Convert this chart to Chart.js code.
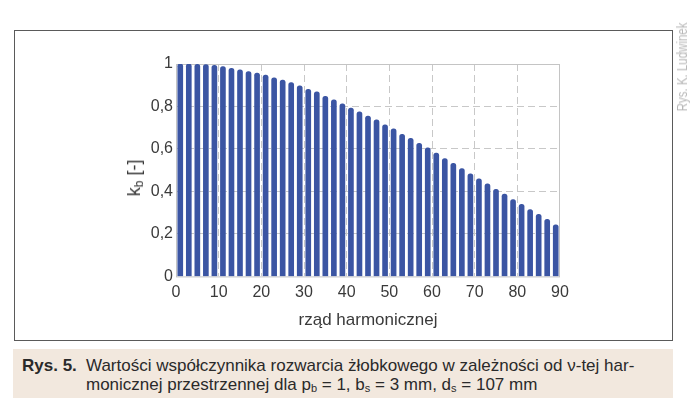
<!DOCTYPE html>
<html>
<head>
<meta charset="utf-8">
<script src="https://cdn.jsdelivr.net/npm/chart.js@4"></script>
<style>
  body { margin: 0; background: #fff; width: 700px; height: 415px; position: relative; overflow: hidden; }
  #frame { position: absolute; left: 14px; top: 30px; width: 657px; height: 309px; border: 1.5px solid #5a5a5a; }
  #wrap { position: absolute; left: 0; top: 0; width: 700px; height: 415px; }
  #ytitle { position: absolute; left: 135px; top: 178px; transform: translate(-50%, -50%) rotate(-90deg);
            font: 18px "Liberation Sans", Arial, sans-serif; color: #3a3a3a; white-space: nowrap; }
  #ytitle sub { font-size: 12px; vertical-align: -3px; }
  #credit { position: absolute; left: 682px; top: 67px; transform: translate(-50%, -50%) rotate(-90deg) scaleX(0.82);
            font: 14px "Liberation Sans", sans-serif; color: #b8b8b8; white-space: nowrap; }
  #caption { position: absolute; left: 13px; top: 349px; width: 660px; height: 49px; background: #f2e8de;
             font: 17px "Liberation Sans", Arial, sans-serif; color: #2a2a2a; }
  #caption .lab { position: absolute; left: 9px; top: 7px; font-weight: bold; }
  #caption .txt { position: absolute; left: 73px; top: 7px; line-height: 19px; white-space: nowrap; }
  #caption sub { font-size: 11px; vertical-align: -2px; }
</style>
</head>
<body>
<div id="frame"></div>
<div id="wrap"><canvas id="kbChart" width="700" height="415"></canvas></div>
<div id="ytitle">k<sub>b</sub> [-]</div>
<div id="credit">Rys. K. Ludwinek</div>
<div id="caption">
  <span class="lab">Rys. 5.</span>
  <span class="txt">Wartości współczynnika rozwarcia żłobkowego w zależności od ν-tej har-<br>monicznej przestrzennej dla p<sub>b</sub> = 1, b<sub>s</sub> = 3 mm, d<sub>s</sub> = 107 mm</span>
</div>
<script>
// harmonic orders (odd) and read-off k_b values
const harmonics = [1, 3, 5, 7, 9, 11, 13, 15, 17, 19, 21, 23, 25, 27, 29, 31, 33, 35, 37, 39, 41, 43, 45,
                   47, 49, 51, 53, 55, 57, 59, 61, 63, 65, 67, 69, 71, 73, 75, 77, 79, 81, 83, 85, 87, 89];
const kbValues = [1.0, 1.0, 0.998, 0.997, 0.994, 0.988, 0.980, 0.973, 0.964, 0.957, 0.948, 0.935, 0.924,
                  0.912, 0.897, 0.881, 0.869, 0.848, 0.831, 0.813, 0.793, 0.775, 0.755,
                  0.737, 0.714, 0.695, 0.669, 0.650, 0.626, 0.605, 0.581, 0.555, 0.532, 0.508, 0.483,
                  0.459, 0.436, 0.410, 0.388, 0.362, 0.339, 0.315, 0.292, 0.269, 0.243];
const xTicks = [0, 10, 20, 30, 40, 50, 60, 70, 80, 90];
const yTicks = [0, 0.2, 0.4, 0.6, 0.8, 1];

const tickFont = { family: '"Liberation Sans", Arial, sans-serif', size: 16 };

// solid light box around the plot (top/right edges are solid in the original)
const plotBox = {
    id: 'plotBox',
    beforeDatasetsDraw(chart) {
        const a = chart.chartArea, ctx = chart.ctx;
        ctx.save();
        ctx.strokeStyle = '#c4c4c4';
        ctx.lineWidth = 1;
        ctx.strokeRect(a.left + 0.5, a.top + 0.5, a.right - a.left - 1, a.bottom - a.top);
        ctx.restore();
    }
};

const ctx = document.getElementById('kbChart').getContext('2d');
new Chart(ctx, {
    type: 'bar',
    data: {
        datasets: [{
            data: harmonics.map((h, i) => ({ x: h, y: kbValues[i] })),
            backgroundColor: '#3b55a3',
            barThickness: 5,
            borderRadius: { topLeft: 2.5, topRight: 2.5, bottomLeft: 0, bottomRight: 0 },
            borderSkipped: 'bottom'
        }]
    },
    options: {
        responsive: false,
        animation: false,
        layout: { padding: { left: 0, right: 140, top: 64, bottom: 84 } },
        plugins: { legend: { display: false }, tooltip: { enabled: false } },
        scales: {
            x: {
                type: 'linear',
                min: 0, max: 90,
                offset: false,
                afterBuildTicks: s => { s.ticks = xTicks.map(v => ({ value: v })); },
                ticks: { font: tickFont, color: '#3a3a3a', padding: 7, maxRotation: 0 },
                grid: { color: c => (c.tick && (c.tick.value === 0 || c.tick.value === 90)) ? 'rgba(0,0,0,0)' : '#c8c8c8',
                        drawTicks: false, offset: false },
                border: { display: false, dash: [7, 4] },
                title: { display: true, text: 'rząd harmonicznej', font: { family: tickFont.family, size: 17 },
                         color: '#3a3a3a', padding: { top: 1, bottom: 0 } }
            },
            y: {
                min: 0, max: 1,
                afterBuildTicks: s => { s.ticks = yTicks.map(v => ({ value: v })); },
                afterFit: s => { s.width = 176; },
                ticks: { font: tickFont, color: '#3a3a3a', padding: 3,
                         callback: v => (v === 0 || v === 1) ? String(v) : v.toFixed(1).replace('.', ',') },
                grid: { color: c => (c.tick && (c.tick.value === 0 || c.tick.value === 1)) ? 'rgba(0,0,0,0)' : '#c8c8c8',
                        drawTicks: false },
                border: { display: false, dash: [7, 4] }
            }
        }
    },
    plugins: [plotBox]
});
</script>
</body>
</html>
